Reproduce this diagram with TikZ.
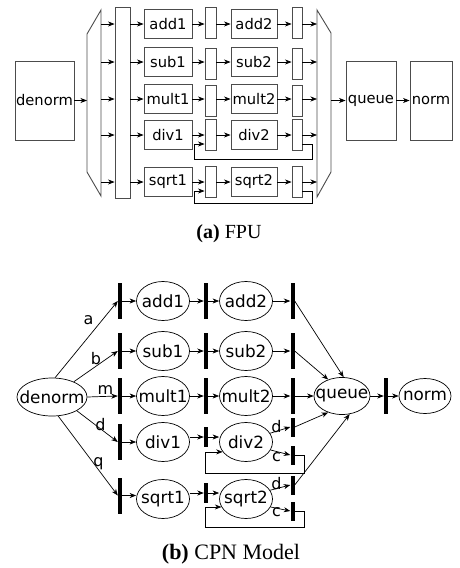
\documentclass[tikz,border=0pt]{standalone}
\usepackage{fontspec}
\setmainfont{DejaVu Sans}
\newfontfamily\capfont{Liberation Serif}
\usetikzlibrary{shapes.geometric,arrows.meta,calc}
\newcommand{\ztx}[1]{\makebox[0pt]{#1}}
\newcommand{\fpufont}{\fontsize{14.7}{16}\selectfont}
\newcommand{\cpnfont}{\fontsize{16.8}{18}\selectfont}
\begin{document}
\begin{tikzpicture}[x=1pt,y=-1pt,
  arr/.style={-{Stealth[length=6.5pt,width=5pt,inset=2pt]}, line width=0.7pt},
  fline/.style={draw=black!70, line width=0.9pt},
  fbox/.style={rectangle, fline, inner sep=0pt, minimum width=48pt, minimum height=29pt, font=\fpufont},
  freg/.style={rectangle, fline, inner sep=0pt, minimum width=11pt, minimum height=31pt},
  tbar/.style={rectangle, fill=black, inner sep=0pt, minimum width=4pt, minimum height=36pt},
  st/.style={ellipse, draw, line width=0.7pt, inner sep=0pt, minimum width=53pt, minimum height=39pt, font=\cpnfont},
  lbl/.style={inner sep=0pt, font=\fontsize{16}{18}\selectfont},
  captxt/.style={inner sep=0pt}
]
\useasboundingbox (0,0) rectangle (460,568);

% ---------------- (a) FPU ----------------
\node[fbox, minimum width=59pt, minimum height=79pt] (denorm) at (44.5,100.5) {\ztx{denorm}};
\draw[fline] (87,34) -- (101,10) -- (101,196) -- (87,172) -- cycle;
\coordinate (lmL) at (87,100);
\coordinate (lmR) at (101,100);
\node[fbox, minimum width=15pt, minimum height=191pt] (bigreg) at (122.5,102.5) {};
\draw[fline] (317,10) -- (331,33) -- (331,172) -- (317,197) -- cycle;
\coordinate (rmL) at (317,100);
\coordinate (rmR) at (331,100);
\node[fbox, minimum width=50pt, minimum height=79pt] (queue) at (371,100.5) {\ztx{queue}};
\node[fbox, minimum width=42pt, minimum height=79pt] (norm) at (431,100.5) {\ztx{norm}};

\draw[arr] (denorm.east) -- (denorm.east -| lmL);

\foreach \n/\y/\ry in {add/24/22.5, sub/62/63.5, mult/99/101, div/135/135, sqrt/182/182}{
  \node[fbox] (\n1) at (168,\y) {\ztx{\n1}};
  \node[freg] (r1\n) at (210.5,\ry) {};
  \node[fbox, minimum width=46pt] (\n2) at (254,\y) {\ztx{\n2}};
  \node[freg, minimum width=10pt] (r2\n) at (297,\ry) {};
  \draw[arr] (\n1 -| lmR) -- (\n1 -| bigreg.west);
  \draw[arr] (\n1 -| bigreg.east) -- (\n1.west);
  \draw[arr] (\n1.east) -- (\n1 -| r1\n.west);
  \draw[arr] (\n1 -| r1\n.east) -- (\n2.west);
  \draw[arr] (\n2.east) -- (\n2 -| r2\n.west);
  \draw[arr] (\n2 -| r2\n.east) -- (\n2 -| rmL);
}
\draw[arr] ($(r2div.east)+(0,9)$) -- ++(10,0) -- ++(0,15) -| ($(r1div.west)+(-10,9)$) -- ($(r1div.west)+(0,9)$);
\draw[arr] ($(r2sqrt.east)+(0,9)$) -- ++(10,0) -- ++(0,12) -| ($(r1sqrt.west)+(-10,9)$) -- ($(r1sqrt.west)+(0,9)$);

\draw[arr] (queue.west -| rmR) -- (queue.west);
\draw[arr] (queue.east) -- (norm.west);

\node[captxt, font=\capfont\fontsize{20}{24}\selectfont] (capa) at (229,234) {\textbf{(a)} FPU};

% ---------------- (b) CPN Model ----------------
\node[st, minimum width=70pt, minimum height=38pt] (cdenorm) at (52,397) {\ztx{denorm}};
\node[st, minimum width=56pt, minimum height=37pt] (cqueue) at (342,396) {\ztx{queue}};
\node[tbar] (qbar) at (386,396) {};
\node[st, minimum width=52pt, minimum height=35pt] (cnorm) at (425,396) {\ztx{norm}};

\foreach \n/\y in {add/301, sub/351, mult/396}{
  \node[tbar] (b1\n) at (120,\y) {};
  \node[st] (c\n1) at (163,\y) {\ztx{\n1}};
  \node[tbar] (b2\n) at (206,\y) {};
  \node[st] (c\n2) at (246,\y) {\ztx{\n2}};
  \node[tbar] (b3\n) at (292.5,\y) {};
  \draw[arr] (b1\n.east) -- (c\n1.west);
  \draw[arr] (c\n1.east) -- (b2\n.west);
  \draw[arr] (b2\n.east) -- (c\n2.west);
  \draw[arr] (c\n2.east) -- (b3\n.west);
}
\foreach \n/\by/\y/\my/\dy/\cy in {div/442/442/437/427/455, sqrt/495.5/499/493/485/511}{
  \node[tbar] (b1\n) at (120,\by) {};
  \node[st] (c\n1) at (163,\y) {\ztx{\n1}};
  \node[tbar, minimum height=20pt] (b2\n) at (206,\my) {};
  \node[st] (c\n2) at (246,\y) {\ztx{\n2}};
  \node[tbar, minimum height=19pt] (d\n) at (292.5,\dy) {};
  \node[tbar, minimum height=19pt] (k\n) at (292.5,\cy) {};
  \draw[arr] (b1\n.east) -- (b1\n.east -| c\n1.west);
  \draw[arr] (b2\n -| c\n1.east) -- (b2\n.west);
  \draw[arr] (b2\n.east) -- (b2\n.east -| c\n2.west);
  \draw[arr] (c\n2.20) -- (d\n.west);
  \draw[arr] (c\n2.-18) -- (k\n.west);
}
\draw[arr] (kdiv.east) -- ++(10,0) -- ++(0,18) -| ($(cdiv2.203)+(-17.5,0)$) -- (cdiv2.203);
\draw[arr] (ksqrt.east) -- ++(10,0) -- ++(0,16) -| ($(csqrt2.198)+(-16.5,0)$) -- (csqrt2.198);

\node[lbl] (ld1) at (276.5,426.5) {d};
\node[lbl] (lc1) at (276.5,457) {c};
\node[lbl] (ld2) at (276.5,484) {d};
\node[lbl] (lc2) at (276.5,512) {c};

% denorm fan-out
\draw[arr] (cdenorm.81) -- (b1add.west);
\draw[arr] (cdenorm.35) -- (b1sub.west);
\draw[arr] (cdenorm.east) -- (b1mult.west);
\draw[arr] (cdenorm.-29) -- (b1div.west);
\draw[arr] (cdenorm.-72) -- (b1sqrt.west);
\node[lbl] (la) at (88.5,320.5) {a};
\node[lbl] (lb) at (96,358.5) {b};
\node[lbl] (lm) at (105.5,390) {m};
\node[lbl] (ld) at (100.5,424.5) {d};
\node[lbl] (lq) at (98.5,464) {q};

% fan-in to queue
\draw[arr] (b3add.east) -- (cqueue.85);
\draw[arr] (b3sub.east) -- (cqueue.130);
\draw[arr] (b3mult.east) -- (cqueue.west);
\draw[arr] (ddiv.east) -- (cqueue.230);
\draw[arr] (dsqrt.east) -- (cqueue.293);
\draw[arr] (cqueue.east) -- (qbar.west);
\draw[arr] (qbar.east) -- (cnorm.west);

\node[captxt, font=\capfont\fontsize{22}{26}\selectfont] (capb) at (231,554) {\textbf{(b)} CPN Model};
\end{tikzpicture}
\end{document}
